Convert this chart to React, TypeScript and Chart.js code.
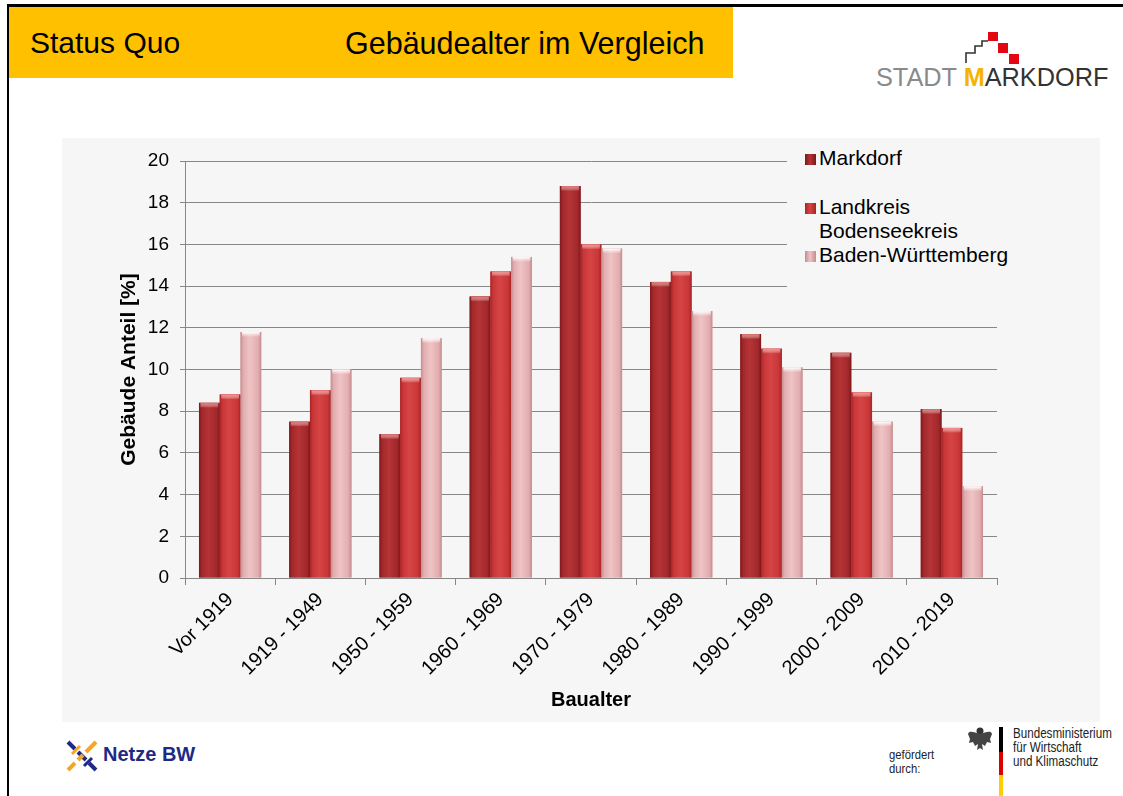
import React, { useEffect, useRef } from 'react';
import { Chart, registerables } from 'chart.js';

Chart.register(...registerables);

const categories = ['Vor 1919', '1919 - 1949', '1950 - 1959', '1960 - 1969', '1970 - 1979', '1980 - 1989', '1990 - 1999', '2000 - 2009', '2010 - 2019'];
const markdorf = [8.4, 7.5, 6.9, 13.5, 18.8, 14.2, 11.7, 10.8, 8.1];
const landkreis = [8.8, 9.0, 9.6, 14.7, 16.0, 14.7, 11.0, 8.9, 7.2];
const badenWuerttemberg = [11.8, 10.0, 11.5, 15.4, 15.8, 12.8, 10.1, 7.5, 4.4];
const seriesNames = ['Markdorf', 'Landkreis Bodenseekreis', 'Baden-Württemberg'];
const legendLines = [['Markdorf'], ['Landkreis', 'Bodenseekreis'], ['Baden-Württemberg']];
const yMin = 0;
const yMax = 20;
const yStep = 2;

const palettes = [
  { edge: '#7c181b', mid: '#a3282b', light: '#b53436', cap: '#d8706f' },
  { edge: '#a82426', mid: '#c93637', light: '#d64545', cap: '#f08a88' },
  { edge: '#c48c8f', mid: '#e2adaf', light: '#efc4c5', cap: '#ffffff' },
];

const BG = '#f6f6f6';
const GRID = '#878787';
const FONT = "Arial, 'Liberation Sans', Helvetica, sans-serif";
const NARROW = "'Liberation Sans Narrow', 'Arial Narrow', Arial, 'Liberation Sans', sans-serif";

const shadePlugin = {
  id: 'shade',
  afterDatasetsDraw(chart: any) {
    const ctx = chart.ctx;
    chart.data.datasets.forEach((_ds: any, di: number) => {
      const meta = chart.getDatasetMeta(di);
      const pal = palettes[di];
      meta.data.forEach((el: any) => {
        const { x, y, base, width } = el.getProps(['x', 'y', 'base', 'width'], true);
        const left = x - width / 2;
        const g = ctx.createLinearGradient(left, 0, left + width, 0);
        g.addColorStop(0, pal.edge);
        g.addColorStop(0.14, pal.mid);
        g.addColorStop(0.45, pal.light);
        g.addColorStop(0.85, pal.mid);
        g.addColorStop(1, pal.edge);
        ctx.save();
        ctx.fillStyle = g;
        ctx.fillRect(left, y, width, base - y);
        const h = Math.min(5, base - y);
        const g2 = ctx.createLinearGradient(0, y, 0, y + h);
        g2.addColorStop(0, pal.cap);
        g2.addColorStop(1, 'rgba(255,255,255,0)');
        ctx.fillStyle = g2;
        ctx.fillRect(left + 1.5, y, width - 3, h);
        ctx.restore();
      });
    });
  },
};

function ChartCanvas() {
  const ref = useRef<HTMLCanvasElement | null>(null);
  useEffect(() => {
    if (!ref.current) return;
    const data = [markdorf, landkreis, badenWuerttemberg];
    const chart = new Chart(ref.current, {
      type: 'bar',
      data: {
        labels: categories,
        datasets: data.map((d, i) => ({
          label: seriesNames[i],
          data: d,
          backgroundColor: palettes[i].mid,
          borderWidth: 0,
          categoryPercentage: 0.69,
          barPercentage: 1,
        })),
      },
      options: {
        animation: false,
        responsive: false,
        maintainAspectRatio: false,
        layout: { padding: { left: 51, right: 103, top: 23, bottom: 6 } },
        plugins: { legend: { display: false }, tooltip: { enabled: false } },
        scales: {
          x: {
            grid: { offset: true, drawOnChartArea: false, drawTicks: true, tickLength: 7, color: GRID },
            border: { color: GRID },
            ticks: { color: '#000', font: { family: FONT, size: 20 }, maxRotation: 45, minRotation: 45, padding: 3 },
            title: { display: true, text: 'Baualter', color: '#000', font: { family: FONT, size: 20, weight: 'bold' }, padding: { top: 4, bottom: 4 } },
            afterFit: (s: any) => { s.height = 138; },
          },
          y: {
            min: yMin,
            max: yMax,
            grid: { color: GRID, tickLength: 5 },
            border: { color: GRID },
            ticks: { stepSize: yStep, color: '#000', font: { family: FONT, size: 19 }, padding: 11 },
            title: { display: true, text: 'Gebäude Anteil [%]', color: '#000', font: { family: FONT, size: 21, weight: 'bold' }, padding: { top: 4, bottom: 4 } },
            afterFit: (s: any) => { s.width = 72; },
          },
        },
      },
      plugins: [shadePlugin],
    } as any);
    return () => chart.destroy();
  }, []);
  return <canvas ref={ref} width={1038} height={584} style={{ position: 'absolute', left: 0, top: 0, width: 1038, height: 584 }} />;
}

function Legend() {
  return (
    <div style={{ position: 'absolute', left: 787 - 62, top: 146 - 138, width: 240, height: 150, background: BG, fontFamily: FONT, fontSize: 21, color: '#000' }}>
      {legendLines.map((lines, i) => {
        const tops = [0, 49, 97];
        const pal = palettes[i];
        return (
          <div key={i} style={{ position: 'absolute', left: 18, top: tops[i], lineHeight: '24px', whiteSpace: 'nowrap' }}>
            <div style={{ position: 'absolute', left: 0, top: 8, width: 11, height: 11, background: `linear-gradient(90deg, ${pal.edge}, ${pal.light} 45%, ${pal.edge})` }} />
            {lines.map((t, j) => (
              <div key={j} style={{ marginLeft: 14 }}>{t}</div>
            ))}
          </div>
        );
      })}
    </div>
  );
}

export default function App() {
  useEffect(() => {
    document.body.style.margin = '0';
  }, []);
  return (
    <div style={{ position: 'absolute', left: 0, top: 0, width: 1123, height: 796, background: '#fff', overflow: 'hidden', fontFamily: FONT }}>
      <div style={{ position: 'absolute', left: 7, top: 4, width: 1130, height: 800, borderTop: '3px solid #000', borderLeft: '2px solid #000', boxSizing: 'border-box' }} />
      <div style={{ position: 'absolute', left: 9, top: 7, width: 724, height: 71, background: '#FFC000' }} />
      <div style={{ position: 'absolute', left: 30, top: 26, fontSize: 30, color: '#000', whiteSpace: 'nowrap' }}>Status Quo</div>
      <div style={{ position: 'absolute', left: 345, top: 26, fontSize: 30.5, color: '#000', whiteSpace: 'nowrap' }}>Gebäudealter im Vergleich</div>

      <svg style={{ position: 'absolute', left: 950, top: 26 }} width={80} height={45}>
        <polyline points="16,37 16,27 25,27 25,20 32,20 32,15 38,15" fill="none" stroke="#333" strokeWidth={1.6} />
        <rect x={38} y={6} width={10} height={9} fill="#e30613" />
        <rect x={48} y={17} width={10} height={10} fill="#e30613" />
        <rect x={59} y={28} width={10} height={10} fill="#e30613" />
      </svg>
      <div style={{ position: 'absolute', left: 876, top: 63, fontSize: 25.3, whiteSpace: 'nowrap', letterSpacing: 0 }}>
        <span style={{ color: '#8a8a8a' }}>STADT </span>
        <span style={{ color: '#f5b400', fontWeight: 'bold' }}>M</span>
        <span style={{ color: '#333' }}>ARKDORF</span>
      </div>

      <div style={{ position: 'absolute', left: 62, top: 138, width: 1038, height: 584, background: BG }}>
        <ChartCanvas />
        <Legend />
      </div>

      <svg style={{ position: 'absolute', left: 64, top: 738 }} width={36} height={36}>
        <line x1={4} y1={4} x2={11} y2={11} stroke="#1e2a86" strokeWidth={4} />
        <line x1={14} y1={14} x2={22} y2={22} stroke="#1e2a86" strokeWidth={4} />
        <line x1={25} y1={25} x2={32} y2={32} stroke="#1e2a86" strokeWidth={4} />
        <line x1={32} y1={4} x2={22} y2={14} stroke="#f5a623" strokeWidth={4} />
        <line x1={19} y1={17} x2={14} y2={22} stroke="#f5a623" strokeWidth={4} />
        <line x1={11} y1={25} x2={4} y2={32} stroke="#f5a623" strokeWidth={4} />
        <line x1={8} y1={16} x2={16} y2={8} stroke="#f5a623" strokeWidth={3} />
        <line x1={20} y1={28} x2={28} y2={20} stroke="#1e2a86" strokeWidth={3} />
      </svg>
      <div style={{ position: 'absolute', left: 103, top: 743, fontSize: 20, fontWeight: 'bold', color: '#1e2a86', whiteSpace: 'nowrap' }}>Netze BW</div>

      <div style={{ position: 'absolute', left: 889, top: 748, fontSize: 12.5, lineHeight: '14px', color: '#222', whiteSpace: 'nowrap', fontFamily: NARROW, transform: 'scaleX(0.9)', transformOrigin: 'left top' }}>
        <div>gefördert</div>
        <div>durch:</div>
      </div>
      <svg style={{ position: 'absolute', left: 966, top: 726 }} width={28} height={28}>
        <circle cx={14} cy={5} r={3.5} fill="#333" />
        <path d="M14,8 C8,6 3,4 2,8 L4,13 L3,17 L7,16 L9,20 L12,18 L11,24 L14,22 L17,24 L16,18 L19,20 L21,16 L25,17 L24,13 L26,8 C25,4 20,6 14,8 Z" fill="#444" />
      </svg>
      <div style={{ position: 'absolute', left: 999, top: 727, width: 4, height: 25, background: '#000' }} />
      <div style={{ position: 'absolute', left: 999, top: 752, width: 4, height: 23, background: '#dd0000' }} />
      <div style={{ position: 'absolute', left: 999, top: 775, width: 4, height: 21, background: '#ffce00' }} />
      <div style={{ position: 'absolute', left: 1013, top: 726, fontSize: 14, lineHeight: '14px', color: '#222', whiteSpace: 'nowrap', fontFamily: NARROW, transform: 'scaleX(0.83)', transformOrigin: 'left top' }}>
        <div>Bundesministerium</div>
        <div>für Wirtschaft</div>
        <div>und Klimaschutz</div>
      </div>
    </div>
  );
}
